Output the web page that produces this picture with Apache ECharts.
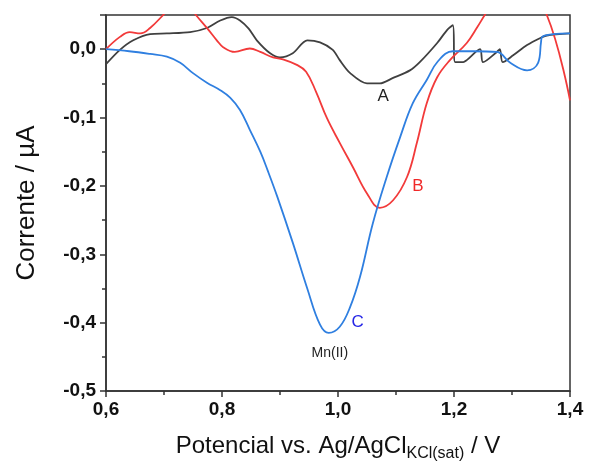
<!DOCTYPE html>
<html><head><meta charset="utf-8">
<script src="https://cdn.jsdelivr.net/npm/echarts@6/dist/echarts.min.js"></script>
<style>html,body{margin:0;padding:0;background:#fff}#c{width:591px;height:468px}</style>
</head><body><div id="c"></div>
<script>
// Curve A (black)
const potA = [0.600,0.624,0.647,0.676,0.705,0.745,0.774,0.797,0.817,0.831,0.846,0.860,0.883,0.900,0.922,0.947,0.969,0.991,1.003,1.021,1.050,1.072,1.095,1.124,1.141,1.171,1.188,1.198,1.202,1.216,1.222,1.245,1.250,1.274,1.279,1.284,1.302,1.326,1.348,1.360,1.400];
const curA = [-0.022,-0.001,0.013,0.022,0.023,0.025,0.031,0.042,0.047,0.042,0.030,0.013,-0.006,-0.012,-0.006,0.013,0.010,-0.001,-0.016,-0.035,-0.050,-0.050,-0.042,-0.031,-0.019,0.009,0.028,0.035,-0.019,-0.019,-0.016,0.000,-0.019,-0.004,0.000,-0.019,-0.009,0.006,0.016,0.020,0.023];
// Curve B (red)
const potB = [0.600,0.624,0.641,0.659,0.676,0.702,0.720,0.740,0.755,0.775,0.791,0.802,0.822,0.848,0.866,0.888,0.905,0.929,0.945,0.962,0.981,1.003,1.026,1.050,1.072,1.095,1.119,1.136,1.153,1.171,1.193,1.222,1.240,1.253,1.280,1.320,1.360,1.400];
const curB = [0.000,0.018,0.025,0.023,0.031,0.053,0.068,0.066,0.050,0.030,0.013,0.003,-0.004,0.001,-0.004,-0.012,-0.015,-0.023,-0.033,-0.062,-0.101,-0.137,-0.173,-0.211,-0.232,-0.221,-0.187,-0.137,-0.079,-0.041,-0.016,0.009,0.032,0.050,0.085,0.090,0.050,-0.075];
// Curve C (blue)
const potC = [0.600,0.640,0.676,0.705,0.728,0.750,0.774,0.797,0.814,0.831,0.848,0.866,0.879,0.895,0.922,0.947,0.969,0.984,1.003,1.021,1.038,1.060,1.084,1.107,1.129,1.153,1.172,1.198,1.233,1.274,1.297,1.326,1.345,1.350,1.352,1.371,1.400];
const curC = [0.000,-0.003,-0.007,-0.011,-0.020,-0.035,-0.049,-0.060,-0.071,-0.089,-0.118,-0.150,-0.178,-0.215,-0.283,-0.350,-0.403,-0.415,-0.406,-0.377,-0.333,-0.255,-0.187,-0.129,-0.079,-0.045,-0.018,-0.003,-0.003,-0.004,-0.020,-0.031,-0.020,0.010,0.018,0.022,0.023];
const xTicks = [0.6,0.8,1.0,1.2,1.4];
const yTicks = [0.0,-0.1,-0.2,-0.3,-0.4,-0.5];

const zip = (a,b)=>a.map((v,i)=>[v,b[i]]);
const fmt = v => v.toFixed(1).replace('.',',');
const FF = "'Liberation Sans', Arial, sans-serif";
function lbl(x,y,t,color,size){
  return {coord:[x,y], value:t, symbol:'circle', symbolSize:0,
    label:{show:true, position:'inside', formatter:t, color:color, fontSize:size, fontFamily:FF}};
}
const tickStyle = {color:'#333',width:1.5};
const chart = echarts.init(document.getElementById('c'));
chart.setOption({
  animation:false,
  grid:{left:106,right:21,top:15,bottom:77,show:true,borderColor:'#333',borderWidth:1.5,backgroundColor:'transparent'},
  xAxis:{type:'value',min:0.6,max:1.4,interval:0.2,
    axisLine:{onZero:false,lineStyle:tickStyle},
    axisTick:{length:6,lineStyle:tickStyle},
    minorTick:{show:true,splitNumber:2,length:4,lineStyle:tickStyle},
    splitLine:{show:false},
    axisLabel:{formatter:fmt,color:'#111',fontSize:19,fontWeight:'bold',fontFamily:FF,margin:9},
    name:'{a|Potencial vs. Ag/AgCl}{b|KCl(sat)}{a| / V}',nameLocation:'middle',nameGap:43,
    nameTextStyle:{color:'#111',fontFamily:FF,rich:{a:{fontSize:24,fontFamily:FF,color:'#111',lineHeight:30,verticalAlign:'top'},b:{fontSize:16,fontFamily:FF,color:'#111',lineHeight:30,verticalAlign:'top',padding:[12,0,0,0]}}}
  },
  yAxis:{type:'value',min:-0.5,max:0.05,interval:0.1,
    axisLine:{onZero:false,lineStyle:tickStyle},
    axisTick:{length:6,lineStyle:tickStyle},
    minorTick:{show:true,splitNumber:2,length:4,lineStyle:tickStyle},
    splitLine:{show:false},
    axisLabel:{formatter:v=>fmt(v),showMaxLabel:false,color:'#111',fontSize:19,fontWeight:'bold',fontFamily:FF,margin:10},
    name:'Corrente / µA',nameLocation:'middle',nameGap:66,nameRotate:90,
    nameTextStyle:{color:'#111',fontSize:26,fontFamily:FF}
  },
  series:[
    {type:'line',data:zip(potA,curA),showSymbol:false,smooth:0.3,lineStyle:{color:'#404040',width:1.8},z:2,
      markPoint:{data:[lbl(1.078,-0.069,'A','#222',17),lbl(0.986,-0.445,'Mn(II)','#222',14)]}},
    {type:'line',data:zip(potB,curB),showSymbol:false,smooth:0.4,lineStyle:{color:'#f23a3a',width:1.8},z:3,
      markPoint:{data:[lbl(1.138,-0.200,'B','#f02828',17)]}},
    {type:'line',data:zip(potC,curC),showSymbol:false,smooth:0.4,lineStyle:{color:'#2f7fe0',width:1.8},z:4,
      markPoint:{data:[lbl(1.034,-0.399,'C','#2626e6',17)]}}
  ]
});
</script></body></html>
